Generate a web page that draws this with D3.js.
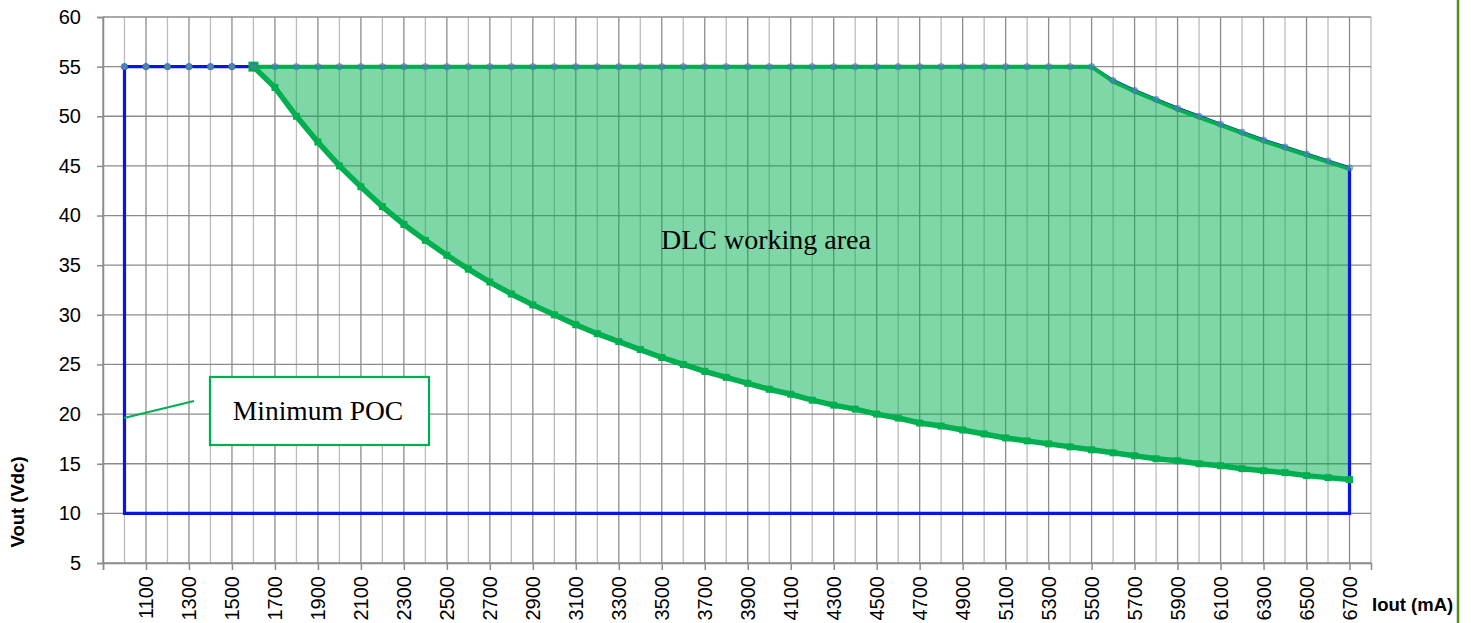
<!DOCTYPE html>
<html><head><meta charset="utf-8">
<script src="https://cdn.jsdelivr.net/npm/d3@7"></script>
<style>body{margin:0;background:#fff;}svg{display:block;}
.ax text{font-family:"Liberation Sans",Arial,sans-serif;font-size:20px;fill:#000;}</style>
</head><body><svg id="c" width="1471" height="623"></svg>
<script>
// Current categories (mA)
const gridCurrents = [900,1000,1100,1200,1300,1400,1500,1600,1700,1800,1900,2000,2100,2200,2300,2400,2500,2600,2700,2800,2900,3000,3100,3200,3300,3400,3500,3600,3700,3800,3900,4000,4100,4200,4300,4400,4500,4600,4700,4800,4900,5000,5100,5200,5300,5400,5500,5600,5700,5800,5900,6000,6100,6200,6300,6400,6500,6600,6700,6800];
const xTickLabels = [1100,1300,1500,1700,1900,2100,2300,2500,2700,2900,3100,3300,3500,3700,3900,4100,4300,4500,4700,4900,5100,5300,5500,5700,5900,6100,6300,6500,6700];
const yTicks = [5,10,15,20,25,30,35,40,45,50,55,60];

// Blue series (Minimum POC outline, top edge with markers)
const blueI = [1000,1100,1200,1300,1400,1500,1600,1700,1800,1900,2000,2100,2200,2300,2400,2500,2600,2700,2800,2900,3000,3100,3200,3300,3400,3500,3600,3700,3800,3900,4000,4100,4200,4300,4400,4500,4600,4700,4800,4900,5000,5100,5200,5300,5400,5500,5600,5700,5800,5900,6000,6100,6200,6300,6400,6500,6600,6700];
const blueV = [55,55,55,55,55,55,55,55,55,55,55,55,55,55,55,55,55,55,55,55,55,55,55,55,55,55,55,55,55,55,55,55,55,55,55,55,55,55,55,55,55,55,55,55,55,55,53.6,52.6,51.7,50.8,50.0,49.2,48.4,47.6,46.9,46.2,45.5,44.8];
const blueBoxI = [1000, 1000, 6700, 6700];
const blueBoxV = [55, 10, 10, 44.8];

// Green series (DLC working area)
const greenI = [1600,1700,1800,1900,2000,2100,2200,2300,2400,2500,2600,2700,2800,2900,3000,3100,3200,3300,3400,3500,3600,3700,3800,3900,4000,4100,4200,4300,4400,4500,4600,4700,4800,4900,5000,5100,5200,5300,5400,5500,5600,5700,5800,5900,6000,6100,6200,6300,6400,6500,6600,6700];
const greenUpper = [55,55,55,55,55,55,55,55,55,55,55,55,55,55,55,55,55,55,55,55,55,55,55,55,55,55,55,55,55,55,55,55,55,55,55,55,55,55,55,55,53.5,52.5,51.6,50.7,49.9,49.1,48.3,47.5,46.8,46.1,45.4,44.7];
const greenLower = [55.0,52.9,50.0,47.4,45.0,42.9,40.9,39.1,37.5,36.0,34.6,33.3,32.1,31.0,30.0,29.0,28.1,27.3,26.5,25.7,25.0,24.3,23.7,23.1,22.5,22.0,21.4,20.9,20.5,20.0,19.6,19.1,18.8,18.4,18.0,17.6,17.3,17.0,16.7,16.4,16.1,15.8,15.5,15.3,15.0,14.8,14.5,14.3,14.1,13.8,13.6,13.4];

const svg = d3.select("#c");
const L = 103, R = 1371, T = 17, B = 563;
const x = d3.scaleLinear().domain([900, 6800]).range([L, R]);
const y = d3.scaleLinear().domain([5, 60]).range([B, T]);

const BLUE = "#0a14e6", GREEN = "#00B050";
const g = svg.append("g");

// vertical gridlines
g.selectAll(".vg").data(gridCurrents).join("line")
  .attr("x1", d => x(d)).attr("x2", d => x(d)).attr("y1", T).attr("y2", B)
  .attr("stroke", (d, i) => i % 2 === 0 ? "#8c8c8c" : "#bcbcbc").attr("stroke-width", 1.3);
// horizontal gridlines
g.selectAll(".hg").data(yTicks).join("line")
  .attr("x1", L).attr("x2", R).attr("y1", d => y(d)).attr("y2", d => y(d))
  .attr("stroke", "#8c8c8c").attr("stroke-width", 1.3);

// Y axis
const yAxis = d3.axisLeft(y).tickValues(yTicks).tickSize(6).tickPadding(16);
const ya = g.append("g").attr("class", "ax").attr("transform", `translate(${L},0)`).call(yAxis);
ya.attr("font-size", null).attr("font-family", null);
ya.select(".domain").attr("stroke", "#8c8c8c").attr("stroke-width", 1.5);
ya.selectAll(".tick line").attr("stroke", "#8c8c8c").attr("stroke-width", 1.5);

// X axis
const xAxis = d3.axisBottom(x).tickValues([900].concat(xTickLabels)).tickSize(7).tickFormat(d => d === 900 ? "" : d);
const xa = g.append("g").attr("class", "ax").attr("transform", `translate(0,${B})`).call(xAxis);
xa.attr("font-size", null).attr("font-family", null);
xa.select(".domain").attr("stroke", "#8c8c8c").attr("stroke-width", 1.5);
xa.selectAll(".tick line").attr("stroke", "#8c8c8c").attr("stroke-width", 1.5);
xa.selectAll("text")
  .attr("transform", "rotate(-90)").attr("text-anchor", "end").attr("x", -13).attr("y", 0).attr("dy", "0.35em");

// Green area fill
const area = d3.area().x(d => x(d[0])).y0(d => y(d[2])).y1(d => y(d[1]));
const gData = greenI.map((v, i) => [v, greenUpper[i], greenLower[i]]);
g.append("path").datum(gData).attr("d", area).attr("fill", GREEN).attr("fill-opacity", 0.5);

// Blue outline
const line = d3.line().x(d => x(d[0])).y(d => y(d[1]));
const bData = blueI.map((v, i) => [v, blueV[i]]);
g.append("path").datum(bData).attr("d", line).attr("fill", "none").attr("stroke", BLUE).attr("stroke-width", 3.2);
g.append("path").datum(blueBoxI.map((v, i) => [v, blueBoxV[i]])).attr("d", line).attr("fill", "none")
  .attr("stroke", BLUE).attr("stroke-width", 3.2).attr("stroke-linejoin", "miter");

// Green lines
g.append("path").datum(gData.map(d => [d[0], d[1]])).attr("d", line).attr("fill", "none")
  .attr("stroke", GREEN).attr("stroke-width", 4);
g.append("path").datum(gData.map(d => [d[0], d[2]])).attr("d", line).attr("fill", "none")
  .attr("stroke", GREEN).attr("stroke-width", 5.5);

// Green square markers on lower curve
g.selectAll(".gm").data(gData).join("rect")
  .attr("x", (d, i) => x(d[0]) - (i === 0 ? 5 : 3.5)).attr("y", (d, i) => y(d[2]) - (i === 0 ? 5 : 3.5))
  .attr("width", (d, i) => i === 0 ? 10 : 7).attr("height", (d, i) => i === 0 ? 10 : 7)
  .attr("fill", GREEN);

// Blue circle markers on top edge
g.selectAll(".bm").data(bData).join("circle")
  .attr("cx", d => x(d[0])).attr("cy", d => y(d[1])).attr("r", 3.2)
  .attr("fill", "#4f81bd").attr("fill-opacity", d => d[0] >= 1600 ? 0.6 : 1)
  .attr("stroke", "#3a6ea5").attr("stroke-width", 0.8).attr("stroke-opacity", d => d[0] >= 1600 ? 0.5 : 1);

// Labels
svg.append("text").attr("x", 766).attr("y", 249).attr("text-anchor", "middle")
  .attr("font-family", "Liberation Serif, Times New Roman, serif").attr("font-size", 28).attr("fill", "#000")
  .text("DLC working area");

// Minimum POC callout
svg.append("line").attr("x1", 124).attr("y1", 418).attr("x2", 194).attr("y2", 401)
  .attr("stroke", GREEN).attr("stroke-width", 2.2);
svg.append("rect").attr("x", 210).attr("y", 377).attr("width", 219).attr("height", 68)
  .attr("fill", "#fff").attr("stroke", GREEN).attr("stroke-width", 2.2);
svg.append("text").attr("x", 318).attr("y", 420).attr("text-anchor", "middle")
  .attr("font-family", "Liberation Serif, Times New Roman, serif").attr("font-size", 27.5).attr("fill", "#000")
  .text("Minimum POC");

// Axis titles
svg.append("text").attr("transform", "translate(24,502) rotate(-90)").attr("text-anchor", "middle")
  .attr("font-family", "Liberation Sans, Arial, sans-serif").attr("font-weight", "bold").attr("font-size", 18.5).attr("fill", "#000")
  .text("Vout (Vdc)");
svg.append("text").attr("x", 1372).attr("y", 611)
  .attr("font-family", "Liberation Sans, Arial, sans-serif").attr("font-weight", "bold").attr("font-size", 18.5).attr("fill", "#000")
  .text("Iout (mA)");

// right frame border
svg.append("line").attr("x1", 1458).attr("x2", 1458).attr("y1", 0).attr("y2", 623)
  .attr("stroke", "#4e8f1e").attr("stroke-width", 2.5);
</script></body></html>
